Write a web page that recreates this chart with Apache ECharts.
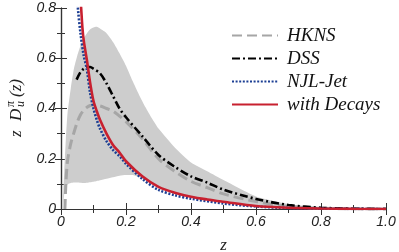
<!DOCTYPE html>
<html>
<head>
<meta charset="utf-8">
<script src="https://cdn.jsdelivr.net/npm/echarts@6/dist/echarts.min.js"></script>
<style>
html,body{margin:0;padding:0;background:#fff;}
#c{width:399px;height:252px;}
</style>
</head>
<body>
<div id="c"></div>
<script>
// ---- data ----
var xTicks = [0, 0.2, 0.4, 0.6, 0.8, 1.0];
var yTicks = [0, 0.2, 0.4, 0.6, 0.8];

var zBand     = [0.005,0.01,0.015,0.02,0.03,0.04,0.05,0.06,0.07,0.08,0.09,0.1,0.11,0.12,0.14,0.16,0.18,0.2,0.22,0.24,0.26,0.28,0.3,0.35,0.4,0.45,0.5,0.6,0.7,0.8,0.9,1.0];
var bandUpper = [0,0.15,0.28,0.38,0.48,0.56,0.61,0.65,0.68,0.70,0.715,0.722,0.725,0.718,0.70,0.665,0.62,0.57,0.51,0.455,0.405,0.36,0.32,0.245,0.185,0.15,0.115,0.05,0.02,0.006,0.001,0];
var bandLower = [0,0.06,0.09,0.098,0.103,0.105,0.105,0.104,0.103,0.104,0.106,0.108,0.111,0.114,0.12,0.126,0.132,0.135,0.135,0.127,0.115,0.1,0.09,0.066,0.05,0.038,0.029,0.013,0.005,0.002,0.0005,0];

var zHKNS   = [0.012,0.015,0.02,0.03,0.04,0.05,0.06,0.07,0.08,0.09,0.1,0.12,0.14,0.16,0.18,0.2,0.25,0.3,0.35,0.4,0.45,0.5,0.6,0.7,0.8,0.9,1.0];
var hknsVal = [0,0.1,0.19,0.26,0.305,0.345,0.375,0.393,0.405,0.412,0.414,0.41,0.40,0.39,0.37,0.348,0.28,0.2,0.15,0.11,0.085,0.06,0.03,0.01,0.003,0.0005,0];

var zDSS   = [0.048,0.06,0.07,0.08,0.09,0.1,0.12,0.14,0.16,0.18,0.2,0.25,0.3,0.35,0.4,0.45,0.5,0.6,0.7,0.8,0.9,1.0];
var dssVal = [0.515,0.545,0.558,0.565,0.565,0.558,0.54,0.5,0.45,0.4,0.365,0.29,0.215,0.168,0.13,0.105,0.077,0.04,0.016,0.005,0.001,0];

var zNJL   = [0.046,0.052,0.06,0.07,0.079,0.09,0.1,0.11,0.12,0.14,0.16,0.182,0.2,0.25,0.3,0.35,0.4,0.5,0.6,0.7,0.8,0.9,1.0];
var njlVal = [0.93,0.8,0.7,0.61,0.56,0.46,0.40,0.355,0.32,0.27,0.235,0.208,0.18,0.12,0.076,0.055,0.041,0.022,0.01,0.004,0.0015,0.0005,0];

var zDec   = [0.055,0.062,0.066,0.07,0.08,0.09,0.1,0.11,0.12,0.14,0.16,0.18,0.2,0.25,0.3,0.35,0.4,0.45,0.5,0.6,0.7,0.8,0.9,1.0];
var decVal = [0.93,0.8,0.72,0.67,0.59,0.5,0.43,0.39,0.355,0.30,0.255,0.225,0.19,0.13,0.088,0.065,0.049,0.038,0.029,0.012,0.005,0.002,0.0005,0];

var seriesNames = ['HKNS', 'DSS', 'NJL-Jet', 'with Decays'];

function pairs(xs, ys){ return xs.map(function(x,i){ return [x, ys[i]]; }); }

var chart = echarts.init(document.getElementById('c'), null, {renderer:'canvas'});

var labelFont = {fontFamily:'Liberation Sans', fontStyle:'italic', fontSize:14, color:'#222'};
var serifIt = 'Liberation Serif';

function fmt(v){ return v === 0 ? '0' : v.toFixed(1); }

var axisCommon = {
  type:'value', min:0,
  axisLine:{show:true, lineStyle:{color:'#333', width:1.2}},
  axisTick:{show:true, inside:true, length:6, lineStyle:{color:'#333', width:1}},
  minorTick:{show:true, splitNumber:2, length:4, lineStyle:{color:'#333', width:1}},
  splitLine:{show:false}, minorSplitLine:{show:false}
};

// band polygon: upper edge left->right, lower edge right->left
var bandData = zBand.map(function(z,i){ return [z, bandUpper[i], bandLower[i]]; });

function renderBand(params, api){
  if (params.dataIndex !== 0) return null;
  var pts = [];
  var i;
  for (i = 0; i < bandData.length; i++) pts.push(api.coord([bandData[i][0], bandData[i][1]]));
  for (i = bandData.length - 1; i >= 0; i--) pts.push(api.coord([bandData[i][0], bandData[i][2]]));
  return {
    type:'polygon',
    shape:{points:pts, smooth:0.2},
    style:{fill:'#cdcdcd', stroke:'none'},
    silent:true
  };
}

var option = {
  animation:false,
  backgroundColor:'#fff',
  grid:{left:61, right:13, top:8, bottom:43, containLabel:false, outerBoundsMode:'none'},
  xAxis:[
    Object.assign({}, axisCommon, {
      max:1, interval:0.2, position:'bottom',
      axisLabel:Object.assign({margin:6, formatter:fmt}, labelFont),
      name:'z', nameLocation:'middle', nameGap:28,
      nameTextStyle:{fontFamily:serifIt, fontStyle:'italic', fontSize:17, color:'#222'}
    }),
    Object.assign({}, axisCommon, {
      max:1, interval:0.2, position:'top', axisLabel:{show:false}
    })
  ],
  yAxis:[
    Object.assign({}, axisCommon, {
      max:0.8, interval:0.2, position:'left',
      axisLabel:Object.assign({margin:5, formatter:fmt}, labelFont)
    }),
    Object.assign({}, axisCommon, {
      max:0.8, interval:0.2, position:'right', axisLabel:{show:false}
    })
  ],
  legend:{
    data:seriesNames,
    orient:'vertical', left:226, top:21,
    itemWidth:46, itemHeight:14, itemGap:4,
    itemStyle:{opacity:0},
    textStyle:{fontFamily:serifIt, fontStyle:'italic', fontSize:19, lineHeight:19, color:'#111', padding:[0,0,0,4]}
  },
  graphic:[{
    type:'group', x:17, y:137, rotation:Math.PI/2,
    children:[
      {type:'text', x:0, y:0, style:{text:'z', font:'italic 17px "Liberation Serif"', fill:'#222', verticalAlign:'middle'}},
      {type:'text', x:16, y:0, style:{text:'D', font:'italic 17px "Liberation Serif"', fill:'#222', verticalAlign:'middle'}},
      {type:'text', x:30, y:-6, style:{text:'π', font:'italic 12px "Liberation Serif"', fill:'#222', verticalAlign:'middle'}},
      {type:'text', x:30, y:4, style:{text:'u', font:'italic 12px "Liberation Serif"', fill:'#222', verticalAlign:'middle'}},
      {type:'text', x:40, y:0, style:{text:'(z)', font:'italic 17px "Liberation Serif"', fill:'#222', verticalAlign:'middle'}}
    ]
  }],
  series:[
    {name:'band', type:'custom', renderItem:renderBand, data:bandData,
     encode:{x:0, y:[1,2]}, clip:true, silent:true, z:1},
    {name:'HKNS', type:'line', data:pairs(zHKNS, hknsVal), symbol:'none', smooth:0.3, z:3,
     lineStyle:{color:'#a6a6a6', width:3, type:[10,5]}, itemStyle:{color:'#a6a6a6'}},
    {name:'DSS', type:'line', data:pairs(zDSS, dssVal), symbol:'none', smooth:0.3, z:4,
     lineStyle:{color:'#000', width:2.6, type:[8,3,2,3]}, itemStyle:{color:'#000'}},
    {name:'NJL-Jet', type:'line', data:pairs(zNJL, njlVal), symbol:'none', smooth:0.3, z:5,
     lineStyle:{color:'#1c3f94', width:2.6, type:[2,1.6]}, itemStyle:{color:'#1c3f94'}},
    {name:'with Decays', type:'line', data:pairs(zDec, decVal), symbol:'none', smooth:0.3, z:6,
     lineStyle:{color:'#c8202f', width:2.6}, itemStyle:{color:'#c8202f'}}
  ]
};
chart.setOption(option);
</script>
</body>
</html>
